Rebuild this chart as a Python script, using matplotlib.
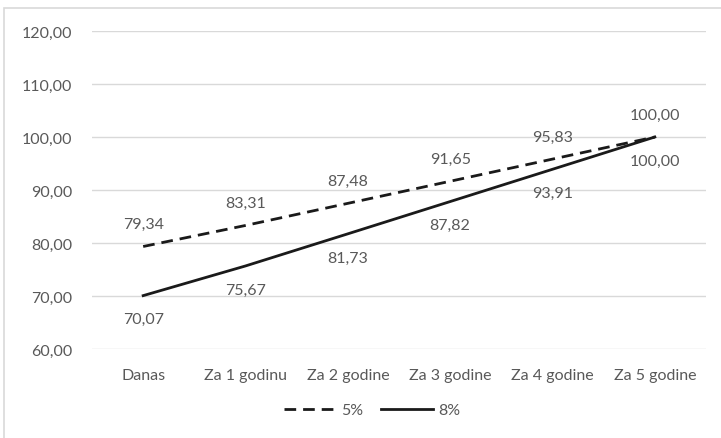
import matplotlib.pyplot as plt
from matplotlib.patches import Rectangle

plt.rcParams['font.family'] = ['Lato', 'DejaVu Sans']

categories = ['Danas', 'Za 1 godinu', 'Za 2 godine', 'Za 3 godine', 'Za 4 godine', 'Za 5 godine']
rate_5 = [79.34, 83.31, 87.48, 91.65, 95.83, 100.00]
rate_8 = [70.07, 75.67, 81.73, 87.82, 93.91, 100.00]

text_col = '#595959'
grid_col = '#d9d9d9'
fs = 11.5

def fmt(v):
    return f'{v:.2f}'.replace('.', ',')

fig = plt.figure(figsize=(7.21, 4.39), dpi=100)
ax = fig.add_axes([92 / 721, 1 - 350 / 439, 614 / 721, 318 / 439])

x = list(range(len(categories)))
ax.plot(x, rate_5, color='#1a1a1a', lw=2.0, dashes=(4.2, 2.5), label='5%', solid_capstyle='butt')
ax.plot(x, rate_8, color='#1a1a1a', lw=2.0, label='8%')

# 5% values above the line, 8% values below
for xi, v in zip(x, rate_5):
    ax.annotate(fmt(v), (xi, v), xytext=(0, 16), textcoords='offset points',
                ha='center', va='center', fontsize=fs, color=text_col)
for xi, v in zip(x, rate_8):
    ax.annotate(fmt(v), (xi, v), xytext=(0, -17), textcoords='offset points',
                ha='center', va='center', fontsize=fs, color=text_col)

ax.set_xlim(-0.5, len(categories) - 0.5)
ax.set_ylim(60, 120)
ax.set_yticks(range(60, 121, 10))
ax.set_yticklabels([fmt(t) for t in range(60, 121, 10)])
ax.set_xticks(x)
ax.set_xticklabels(categories)
ax.tick_params(length=0, labelsize=fs, colors=text_col, pad=14)
ax.tick_params(axis='y', pad=14)
ax.grid(axis='y', color=grid_col, lw=1)
ax.set_axisbelow(True)
for s in ax.spines.values():
    s.set_visible(False)

leg = fig.legend(loc='center', bbox_to_anchor=(372 / 721, 1 - 411 / 439), ncol=2, frameon=False,
                 fontsize=fs, handlelength=3.3, handletextpad=0.3, columnspacing=1.1)
for t in leg.get_texts():
    t.set_color(text_col)

# chart frame
fig.patches.append(Rectangle((4 / 721, -0.1), 1.2, 1 - 9 / 439 + 0.1, transform=fig.transFigure,
                             fill=False, edgecolor=grid_col, lw=1.2))

fig.savefig('out.png', dpi=100)
